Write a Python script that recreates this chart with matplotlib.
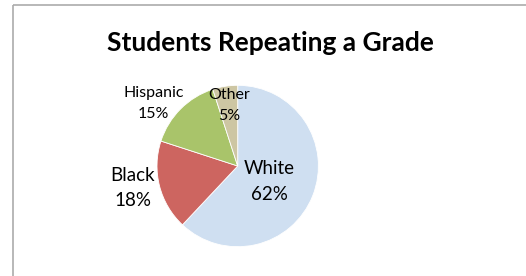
import matplotlib
matplotlib.use("Agg")
import matplotlib.pyplot as plt
from matplotlib.patches import Rectangle

title = "Students Repeating a Grade"
categories = ["White", "Black", "Hispanic", "Other"]
values = [62, 18, 15, 5]
pct_labels = ["62%", "18%", "15%", "5%"]
colors = ["#cfdff1", "#cd6560", "#a9c46a", "#cdc6a3"]

W, H = 526, 276
fig = plt.figure(figsize=(W / 100, H / 100), dpi=100)

# pie axes
cx, cy, r = 237.7, 166.0, 80.7
pax = fig.add_axes([(cx - r) / W, (H - cy - r) / H, 2 * r / W, 2 * r / H])
pax.pie(values, colors=colors, startangle=90, counterclock=False,
        wedgeprops=dict(edgecolor="white", linewidth=0.6), radius=1.0)
pax.set_xlim(-1, 1)
pax.set_ylim(-1, 1)
pax.set_aspect("auto")
pax.axis("off")

# overlay axes in pixel coordinates for frame and text
ax = fig.add_axes([0, 0, 1, 1], zorder=5)
ax.patch.set_alpha(0)
ax.set_xlim(0, W)
ax.set_ylim(H, 0)
ax.axis("off")

ax.add_patch(Rectangle((12.5, 4.5), 530, 300, fill=False, edgecolor="#ababab", lw=1.2))

font = "Lato"
ax.text(270, 51, title, ha="center", va="baseline", fontsize=19,
        fontweight="bold", family=font, color="black")

name_pos = [(269, 174), (132.7, 181), (153.3, 97.3), (229.3, 99.3)]
pct_pos = [(269, 199.5), (132.7, 206), (153.3, 118.3), (229.3, 120)]
label_size = [13.5, 13.5, 11.5, 11.5]
for cat, pct, (nx, ny), (px, py), fs in zip(categories, pct_labels, name_pos, pct_pos, label_size):
    ax.text(nx, ny, cat, ha="center", va="baseline", fontsize=fs, family=font, color="black")
    ax.text(px, py, pct, ha="center", va="baseline", fontsize=fs, family=font, color="black")

fig.savefig("out.png", dpi=100)
